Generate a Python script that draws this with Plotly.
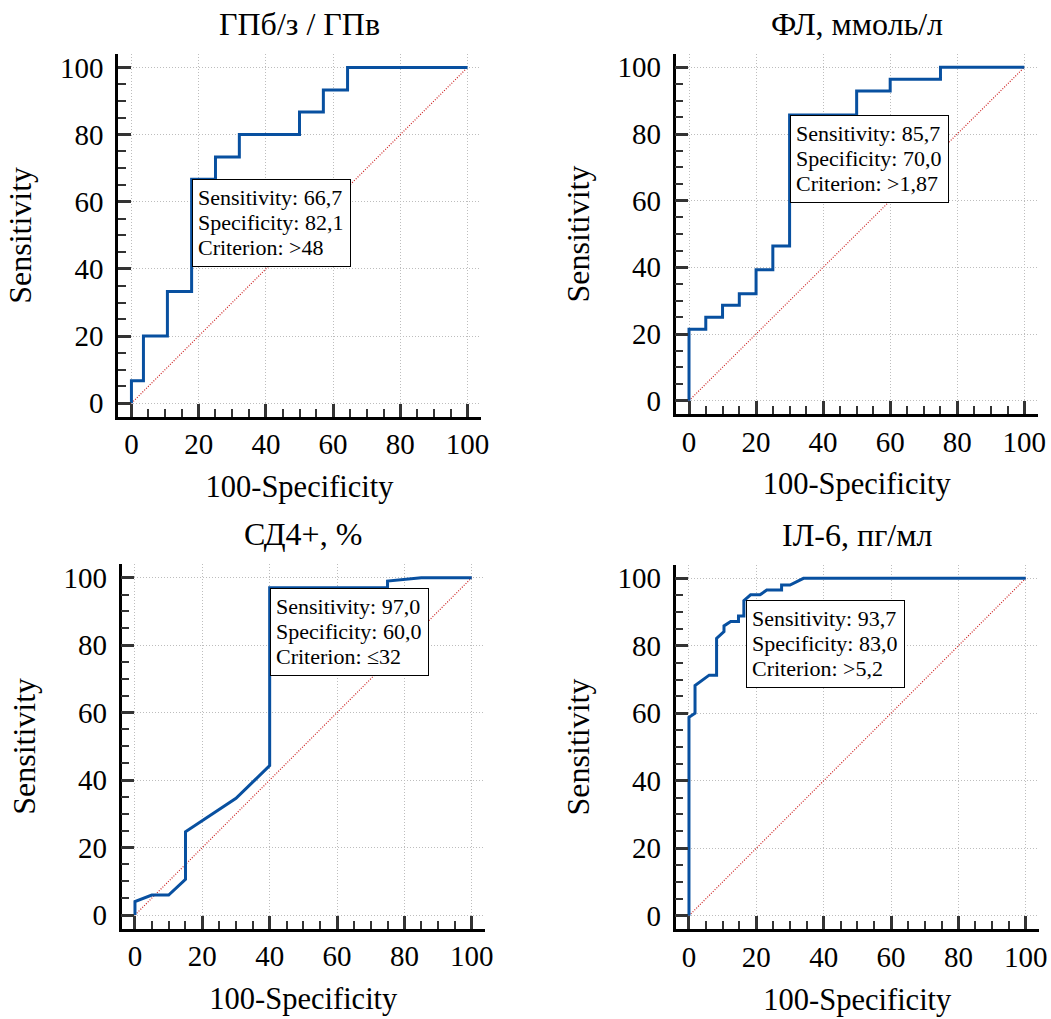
import plotly.graph_objects as go

# ---------------- data ----------------
panel_titles = ["ГПб/з / ГПв", "ФЛ, ммоль/л", "СД4+, %", "ІЛ-6, пг/мл"]

fpr1 = [0, 0, 3.57, 3.57, 10.7, 10.7, 17.9, 17.9, 25, 25, 32.1, 32.1, 50, 50, 57.1, 57.1, 64.3, 64.3, 100]
tpr1 = [0, 6.7, 6.7, 20, 20, 33.3, 33.3, 66.7, 66.7, 73.3, 73.3, 80, 80, 86.7, 86.7, 93.3, 93.3, 100, 100]

fpr2 = [0, 0, 5, 5, 10, 10, 15, 15, 20, 20, 25, 25, 30, 30, 50, 50, 60, 60, 75, 75, 100]
tpr2 = [0, 21.4, 21.4, 25, 25, 28.6, 28.6, 32.1, 32.1, 39.3, 39.3, 46.4, 46.4, 85.7, 85.7, 92.9, 92.9, 96.4, 96.4, 100, 100]

fpr3 = [0, 0, 5, 10, 15, 15, 30, 40, 40, 75, 75, 85, 100]
tpr3 = [0, 4, 5.9, 5.9, 10.6, 24.7, 34.6, 44.3, 97, 97, 99, 100, 100]

fpr4 = [0, 0, 1.8, 1.8, 6, 8.2, 8.2, 10.4, 10.4, 12.4, 14.7, 14.7, 16.3, 16.3, 18.3, 21.1, 23.1, 27.5, 27.5, 30, 34, 100]
tpr4 = [0, 58.8, 60, 68.2, 71.3, 71.3, 82.2, 84.2, 85.9, 87.2, 87.2, 88.8, 88.8, 93.4, 95.1, 95.1, 96.5, 96.5, 98, 98, 100, 100]

sensitivity = [66.7, 85.7, 97.0, 93.7]
specificity = [82.1, 70.0, 60.0, 83.0]
criterion = [">48", ">1,87", "≤32", ">5,2"]

diag = [0, 100]
tick_values = [0, 20, 40, 60, 80, 100]

curves = [(fpr1, tpr1), (fpr2, tpr2), (fpr3, tpr3), (fpr4, tpr4)]

# ---------------- layout ----------------
W, H = 1051, 1019
FONT = "Liberation Serif"
CURVE = "#0850a0"

# pixel boxes of each plot area (left, right, top, bottom)
boxes = [
    (118, 481, 54, 416.7),
    (675.6, 1037.7, 54, 414),
    (121.5, 485.2, 564.2, 928.5),
    (675.5, 1039.2, 564.8, 929.2),
]

fig = go.Figure()

def fmt(v):
    return f"{v:.1f}".replace(".", ",")

for i, ((fx, ty), box) in enumerate(zip(curves, boxes)):
    n = "" if i == 0 else str(i + 1)
    xa, ya = "x" + n, "y" + n
    fig.add_trace(go.Scatter(x=diag, y=diag, mode="lines", xaxis=xa, yaxis=ya,
                             line=dict(color="#cc2020", width=1.2, dash="1px,1.6px"),
                             showlegend=False, hoverinfo="skip"))
    fig.add_trace(go.Scatter(x=fx, y=ty, mode="lines", xaxis=xa, yaxis=ya,
                             line=dict(color=CURVE, width=3),
                             showlegend=False))
    l, r, t, b = box
    axis_common = dict(
        range=[-4, 104], showline=True, linecolor="black", linewidth=2.5,
        ticks="inside", ticklen=13, tickwidth=2.5, tickcolor="#333",
        tickvals=tick_values, showgrid=True, gridcolor="#bdbdbd", gridwidth=1,
        griddash="1px,2px", zeroline=False, automargin=False,
        tickfont=dict(family=FONT, size=29, color="black"),
        minor=dict(ticks="inside", ticklen=8, tickwidth=1.5, tickcolor="#333",
                   dtick=5, tick0=0, showgrid=False),
        fixedrange=True,
    )
    fig.layout["xaxis" + n] = dict(
        axis_common, domain=[l / W, r / W], anchor=ya,
        ticklabelstandoff=0,
        title=dict(text="100-Specificity", font=dict(family=FONT, size=30.5, color="black"), standoff=17),
    )
    fig.layout["yaxis" + n] = dict(
        axis_common, domain=[1 - b / H, 1 - t / H], anchor=xa,
        ticklabelstandoff=6,
        title=dict(text="Sensitivity", font=dict(family=FONT, size=32, color="black"), standoff=19),
    )
    # panel title
    fig.add_annotation(text=panel_titles[i], xref="paper", yref="paper",
                       x=(l + r) / 2 / W, y=1 - (t - 30) / H, xanchor="center", yanchor="middle",
                       showarrow=False, font=dict(family=FONT, size=32, color="black"))
    # criterion box anchored at the optimal point
    px, py = 100 - specificity[i], sensitivity[i]
    fig.add_annotation(text=" ", xref=xa, yref=ya, x=px, y=py,
                       xanchor="left", yanchor="top", showarrow=False,
                       width=157, height=86, borderpad=0,
                       bgcolor="white", bordercolor="black", borderwidth=1,
                       font=dict(family=FONT, size=10))
    lines = [f"Sensitivity: {fmt(sensitivity[i])}", f"Specificity: {fmt(specificity[i])}",
             f"Criterion: {criterion[i]}"]
    for k, line in enumerate(lines):
        fig.add_annotation(text=line, xref=xa, yref=ya, x=px, y=py,
                           xanchor="left", yanchor="middle", showarrow=False,
                           xshift=5, yshift=-(18.7 + 25 * k), borderpad=0,
                           font=dict(family=FONT, size=22, color="black"))

fig.update_layout(width=W, height=H, margin=dict(l=0, r=0, t=0, b=0),
                  plot_bgcolor="white", paper_bgcolor="white",
                  font=dict(family=FONT, color="black"))

fig.write_html("out.html", config={"displayModeBar": False},
               post_script="document.body.style.margin='0';document.body.style.overflow='hidden';")
